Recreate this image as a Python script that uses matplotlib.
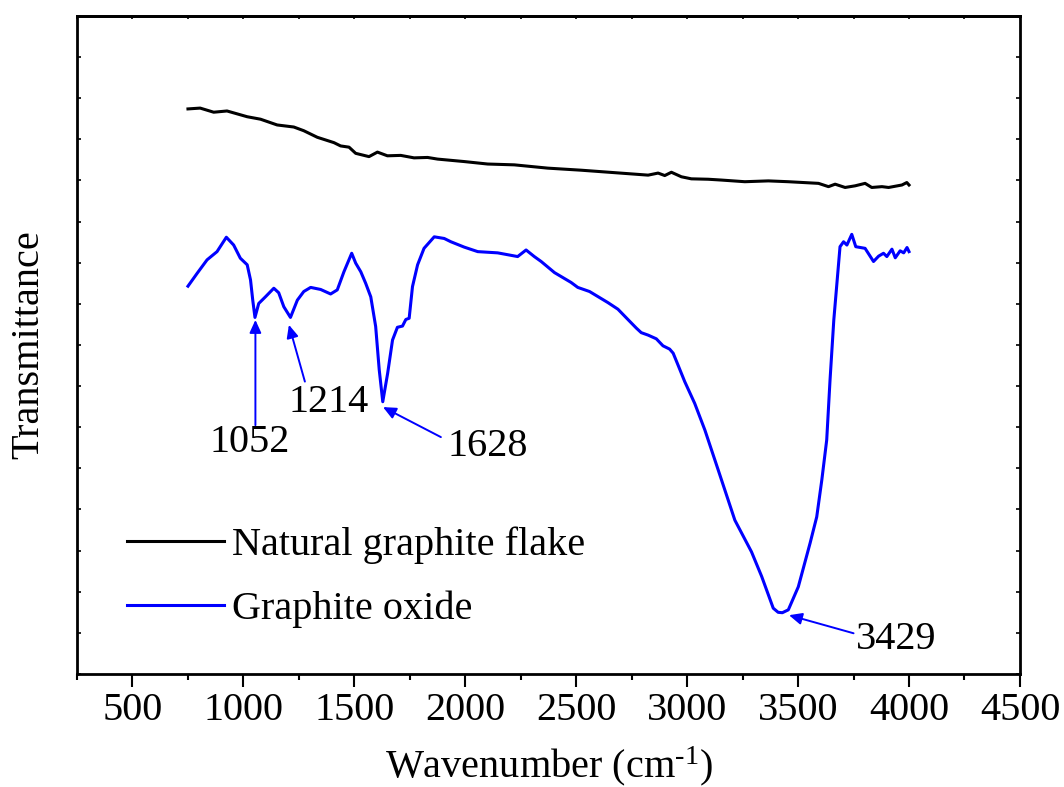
import matplotlib
matplotlib.use("Agg")
import matplotlib.pyplot as plt
from matplotlib.ticker import MultipleLocator, NullFormatter

plt.rcParams['font.family'] = ['Liberation Serif', 'DejaVu Serif']
plt.rcParams['mathtext.fontset'] = 'custom'
plt.rcParams['mathtext.rm'] = 'Liberation Serif'
plt.rcParams['mathtext.default'] = 'regular'

# ---- data (wavenumber cm^-1, transmittance a.u.) ----
natural_x = [750, 805, 866, 926, 1017, 1077, 1152, 1227, 1272, 1333, 1408, 1438,
             1476, 1506, 1566, 1604, 1649, 1709, 1769, 1830, 1875, 1995, 2101,
             2221, 2372, 2522, 2673, 2824, 2869, 2899, 2929, 2974, 3019, 3095,
             3155, 3260, 3366, 3456, 3592, 3637, 3667, 3712, 3757, 3802, 3832,
             3878, 3908, 3968, 3990, 4000]
natural_y = [13.74, 13.76, 13.66, 13.69, 13.55, 13.49, 13.35, 13.30, 13.21, 13.05,
             12.92, 12.84, 12.81, 12.66, 12.58, 12.69, 12.60, 12.61, 12.55, 12.56,
             12.52, 12.46, 12.40, 12.38, 12.30, 12.25, 12.19, 12.13, 12.18, 12.12,
             12.20, 12.09, 12.04, 12.03, 12.01, 11.97, 11.99, 11.97, 11.93, 11.85,
             11.91, 11.83, 11.87, 11.93, 11.83, 11.85, 11.83, 11.89, 11.95, 11.89]

oxide_x = [750, 791, 836, 881, 923, 956, 986, 1017, 1032, 1042, 1052, 1069, 1099,
           1137, 1159, 1182, 1212, 1243, 1272, 1303, 1348, 1393, 1423, 1453, 1488,
           1506, 1529, 1551, 1574, 1596, 1612, 1628, 1650, 1672, 1694, 1717, 1732,
           1747, 1762, 1785, 1814, 1860, 1905, 1935, 1995, 2056, 2146, 2236, 2274,
           2311, 2342, 2402, 2477, 2507, 2560, 2643, 2688, 2733, 2771, 2793, 2824,
           2861, 2891, 2921, 2937, 2959, 2989, 3034, 3080, 3140, 3215, 3290, 3336,
           3388, 3410, 3429, 3456, 3501, 3554, 3584, 3607, 3629, 3644, 3661, 3689,
           3705, 3720, 3742, 3760, 3802, 3840, 3863, 3885, 3900, 3923, 3938, 3960,
           3976, 3991, 4000]
oxide_y = [9.43, 9.74, 10.07, 10.27, 10.62, 10.43, 10.11, 9.95, 9.58, 9.09, 8.67,
           9.01, 9.17, 9.38, 9.27, 8.93, 8.67, 9.09, 9.30, 9.40, 9.35, 9.24, 9.34,
           9.78, 10.23, 9.99, 9.78, 9.50, 9.17, 8.45, 7.40, 6.62, 7.31, 8.12, 8.43,
           8.46, 8.62, 8.65, 9.42, 9.95, 10.35, 10.63, 10.59, 10.51, 10.38, 10.27,
           10.24, 10.15, 10.31, 10.15, 10.03, 9.76, 9.52, 9.40, 9.30, 9.03, 8.87,
           8.62, 8.41, 8.30, 8.24, 8.15, 7.98, 7.90, 7.80, 7.51, 7.11, 6.58, 5.93,
           4.96, 3.74, 2.97, 2.37, 1.60, 1.50, 1.49, 1.56, 2.12, 3.18, 3.82, 4.72,
           5.69, 7.15, 8.61, 10.39, 10.51, 10.43, 10.69, 10.39, 10.35, 10.03, 10.16,
           10.23, 10.15, 10.33, 10.12, 10.29, 10.24, 10.37, 10.27]

peak_labels = ['1052', '1214', '1628', '3429']
peak_tips = [(1054, 8.61), (1205, 8.49), (1629, 6.49), (3459, 1.43)]
peak_tails = [(1054, 6.05), (1277, 7.11), (1890, 5.76), (3750, 0.99)]
peak_text_pos = [(1027, 5.64), (1384, 6.59), (2101, 5.54), (3941, 0.83)]

series_names = ['Natural graphite flake', 'Graphite oxide']

FS = 29

fig = plt.figure(figsize=(10.64, 7.87), dpi=100)
ax = fig.add_axes([0.0724, 0.1436, 0.8862, 0.8361])

ax.plot(natural_x, natural_y, color='black', lw=2.2, label=series_names[0])
ax.plot(oxide_x, oxide_y, color='#0000FF', lw=2.2, label=series_names[1])

for lab, tip, tail, tp in zip(peak_labels, peak_tips, peak_tails, peak_text_pos):
    ax.annotate('', xy=tip, xytext=tail,
                arrowprops=dict(arrowstyle='-|>,head_length=0.55,head_width=0.25',
                                color='#0000FF', lw=1.4, mutation_scale=14,
                                shrinkA=0, shrinkB=0))
    ax.text(tp[0], tp[1], lab, fontsize=FS, ha='center', va='center')

ax.set_xlim(250, 4500)
ax.set_ylim(0, 16)

ax.xaxis.set_major_locator(MultipleLocator(500))
ax.xaxis.set_minor_locator(MultipleLocator(250))
ax.yaxis.set_major_locator(MultipleLocator(1))
ax.yaxis.set_major_formatter(NullFormatter())
ax.tick_params(axis='x', which='major', direction='out', length=9, width=1.5,
               labelsize=FS, pad=4, top=False)
ax.tick_params(axis='x', which='minor', direction='out', length=4.5, width=1.5, top=False)
ax.tick_params(axis='y', which='major', direction='in', length=3, width=1.2,
               left=True, right=True)

secx = ax.secondary_xaxis('top')
secx.xaxis.set_major_locator(MultipleLocator(250))
secx.xaxis.set_major_formatter(NullFormatter())
secx.tick_params(direction='in', length=2.5, width=1.2)
secx.spines['top'].set_linewidth(2)

for s in ax.spines.values():
    s.set_linewidth(2)

ax.set_xlabel('Wavenumber (cm$^{\\mathregular{\u2010}1}$)', fontsize=FS, labelpad=11)
ax.set_ylabel('Transmittance', fontsize=FS, labelpad=18)

ax.legend(loc='center left', bbox_to_anchor=(0.053, 0.147), frameon=False,
          fontsize=FS, handlelength=2.4, handletextpad=0.2, labelspacing=0.65,
          borderpad=0, borderaxespad=0)

fig.savefig('out.png', dpi=100)
